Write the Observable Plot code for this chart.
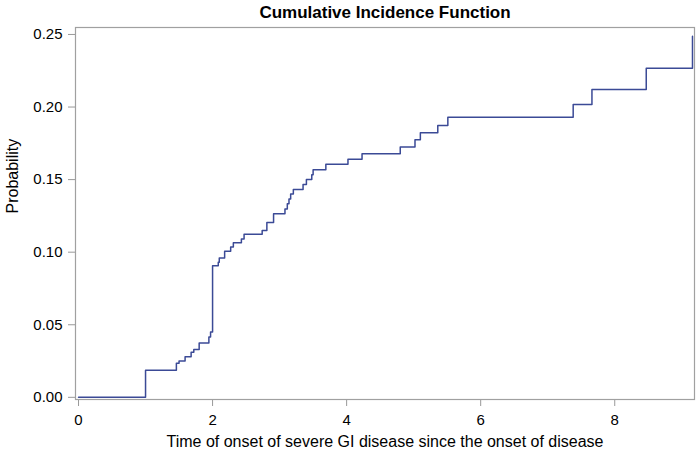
<!DOCTYPE html>
<html>
<head>
<meta charset="utf-8">
<script src="https://cdn.jsdelivr.net/npm/d3@7"></script>
<script src="https://cdn.jsdelivr.net/npm/@observablehq/plot@0.6"></script>
<style>
  html, body { margin: 0; padding: 0; background: #fff; }
  #chart svg { display: block; }
</style>
</head>
<body>
<div id="chart"></div>
<script>
const titleText = "Cumulative Incidence Function";
const xLabel = "Time of onset of severe GI disease since the onset of disease";
const yLabel = "Probability";

// Event times and cumulative incidence
const times = [0, 1.00, 1.46, 1.50, 1.59, 1.68, 1.72, 1.80, 1.945, 1.97, 2.00,
  2.085, 2.10, 2.18, 2.27, 2.31, 2.43, 2.47, 2.74, 2.81, 2.91,
  3.08, 3.115, 3.14, 3.165, 3.205, 3.35, 3.40, 3.48, 3.50, 3.69,
  4.02, 4.23, 4.80, 5.02, 5.10, 5.36, 5.51, 7.38, 7.66, 8.47, 9.16];
const cif = [0, 0.0186, 0.0235, 0.025, 0.028, 0.031, 0.033, 0.0375, 0.0415, 0.045, 0.0907,
  0.093, 0.096, 0.1006, 0.1035, 0.1065, 0.109, 0.1123, 0.115, 0.1205, 0.1265,
  0.1297, 0.1333, 0.1367, 0.140, 0.1432, 0.1467, 0.150, 0.1534, 0.1568, 0.1605,
  0.164, 0.1678, 0.1724, 0.1774, 0.1823, 0.1873, 0.193, 0.2018, 0.2121, 0.2268, 0.2488];

const xTicks = [0, 2, 4, 6, 8];
const yTicks = [0, 0.05, 0.10, 0.15, 0.20, 0.25];

const data = times.map((t, i) => ({t, p: cif[i]}));

const font = "'Liberation Sans', Arial, sans-serif";

const chart = Plot.plot({
  width: 700,
  height: 456,
  marginLeft: 75,
  marginRight: 6,
  marginTop: 27,
  marginBottom: 57,
  style: {fontFamily: font, fontSize: "15px", color: "#000", background: "#fff"},
  x: {domain: [-0.045, 9.19], ticks: xTicks, label: null},
  y: {domain: [-0.0015, 0.2548], ticks: yTicks, label: null, tickFormat: d3.format(".2f")},
  marks: [
    Plot.axisX({ticks: xTicks, tickSize: 7, tickPadding: 8, stroke: "#999", fill: "#000", fontSize: 15, label: null}),
    Plot.axisY({ticks: yTicks, tickSize: 7, tickPadding: 6, stroke: "#999", fill: "#000", fontSize: 15, label: null, tickFormat: d3.format(".2f")}),
    Plot.line(data, {x: "t", y: "p", curve: "step-after", stroke: "#3B4A96", strokeWidth: 1.5}),
    Plot.frame({stroke: "#a0a0a0", strokeWidth: 1.2}),
    Plot.text([titleText], {frameAnchor: "top", lineAnchor: "middle", dy: -15, text: d => d, fontSize: 17, fontWeight: "bold", fill: "#000"}),
    Plot.text([xLabel], {frameAnchor: "bottom", lineAnchor: "middle", dy: 42, text: d => d, fontSize: 16, fill: "#000"}),
    Plot.text([yLabel], {frameAnchor: "left", lineAnchor: "middle", dx: -63, rotate: -90, text: d => d, fontSize: 16, fill: "#000"})
  ]
});
document.getElementById("chart").appendChild(chart);
</script>
</body>
</html>
